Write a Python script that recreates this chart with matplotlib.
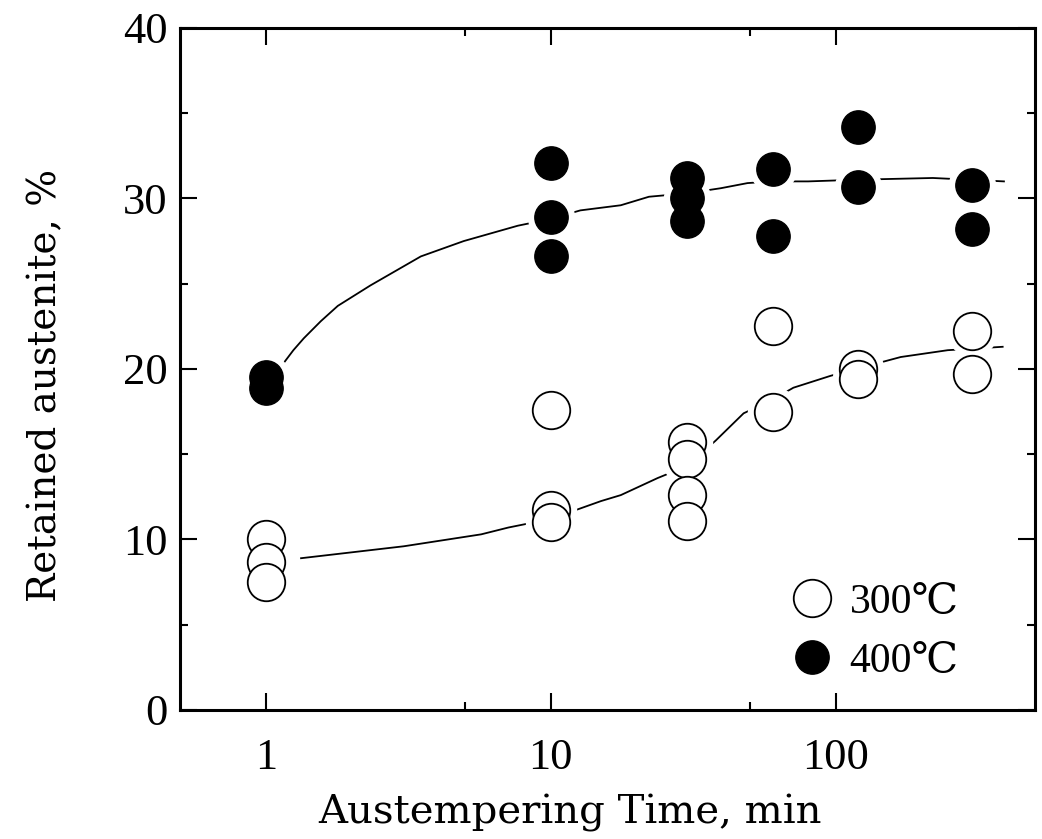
import matplotlib
matplotlib.use("Agg")
import matplotlib.pyplot as plt
from matplotlib.ticker import FixedLocator, NullFormatter
from matplotlib.lines import Line2D

plt.rcParams['font.family'] = ['Liberation Serif', 'DejaVu Serif', 'DejaVu Sans']

# measured points, austempering time (min) vs retained austenite (%)
t_300 = [1, 1, 1, 10, 10, 10, 30, 30, 30, 30, 60, 60, 120, 120, 300, 300]
ra_300 = [10.0, 8.7, 7.5, 17.6, 11.7, 11.0, 15.7, 14.7, 12.6, 11.1, 22.5, 17.5, 20.0, 19.4, 22.2, 19.7]

t_400 = [1, 1, 10, 10, 10, 30, 30, 30, 60, 60, 120, 120, 300, 300]
ra_400 = [19.5, 18.9, 32.1, 28.9, 26.6, 31.2, 30.0, 28.7, 31.7, 27.8, 34.2, 30.7, 30.8, 28.2]

# hand drawn trend curves
curve_300_t = [1.33, 3.05, 5.7, 7.1, 10, 13.1, 15, 17.6, 23.7, 30, 37.9, 47.5, 60, 71, 96, 169, 247, 385]
curve_300_y = [8.9, 9.6, 10.3, 10.7, 11.2, 11.9, 12.25, 12.6, 13.6, 14.3, 15.8, 17.4, 18.2, 18.9, 19.6, 20.7, 21.1, 21.3]

curve_400_t = [1.15, 1.25, 1.36, 1.56, 1.79, 2.33, 3.5, 4.95, 7.66, 10, 12.7, 17.6, 22.1, 30, 39.5, 49, 60, 80, 120, 219, 389]
curve_400_y = [20.3, 21.1, 21.8, 22.8, 23.7, 24.9, 26.6, 27.5, 28.4, 28.8, 29.3, 29.6, 30.1, 30.3, 30.6, 30.9, 31.0, 31.0, 31.1, 31.2, 31.0]

x_ticks = [1, 10, 100]
x_minor = [5, 50]
y_ticks = [0, 10, 20, 30, 40]
y_minor = [5, 15, 25, 35]
labels = ['300℃', '400℃']

fig = plt.figure(figsize=(10.42, 8.39), dpi=100)
ax = fig.add_axes([0.1727, 0.1538, 0.8206, 0.8129])

ax.plot(curve_300_t, curve_300_y, color='black', lw=1.3, zorder=1)
ax.plot(curve_400_t, curve_400_y, color='black', lw=1.3, zorder=1)

# white halo so the curves stop short of the symbols
ax.plot(t_300, ra_300, 'o', ms=36, color='white', zorder=2)
ax.plot(t_400, ra_400, 'o', ms=33, color='white', zorder=2)

ax.plot(t_300, ra_300, 'o', ms=27, mfc='white', mec='black', mew=1.3, zorder=3)
ax.plot(t_400, ra_400, 'o', ms=24, mfc='black', mec='black', zorder=3)

ax.set_xscale('log')
ax.set_xlim(0.5, 500)
ax.set_ylim(0, 40)
ax.xaxis.set_major_locator(FixedLocator(x_ticks))
ax.xaxis.set_minor_locator(FixedLocator(x_minor))
ax.xaxis.set_minor_formatter(NullFormatter())
ax.set_xticklabels([str(v) for v in x_ticks])
ax.yaxis.set_major_locator(FixedLocator(y_ticks))
ax.yaxis.set_minor_locator(FixedLocator(y_minor))

for s in ax.spines.values():
    s.set_linewidth(2.2)
ax.tick_params(which='both', direction='in', top=True, right=True, width=1.5)
ax.tick_params(which='major', length=12)
ax.tick_params(which='minor', length=6)
ax.tick_params(axis='x', which='major', labelsize=32, pad=20)
ax.tick_params(axis='y', which='major', labelsize=32, pad=9)

ax.set_xlabel('Austempering Time, min', fontsize=29, family='DejaVu Serif')
ax.xaxis.set_label_coords(0.456, -0.123)
ax.set_ylabel('Retained austenite, %', fontsize=28, family='DejaVu Serif')
ax.yaxis.set_label_coords(-0.135, 0.4765)

handles = [Line2D([], [], ls='none', marker='o', ms=27, mfc='white', mec='black', mew=1.3),
           Line2D([], [], ls='none', marker='o', ms=24, mfc='black', mec='black')]
ax.legend(handles, labels, loc='lower right', bbox_to_anchor=(0.935, 0.012), frameon=False,
          fontsize=30, borderpad=0, handletextpad=0.3, labelspacing=0.5, handlelength=1.2)

fig.savefig('out.png', dpi=100)
